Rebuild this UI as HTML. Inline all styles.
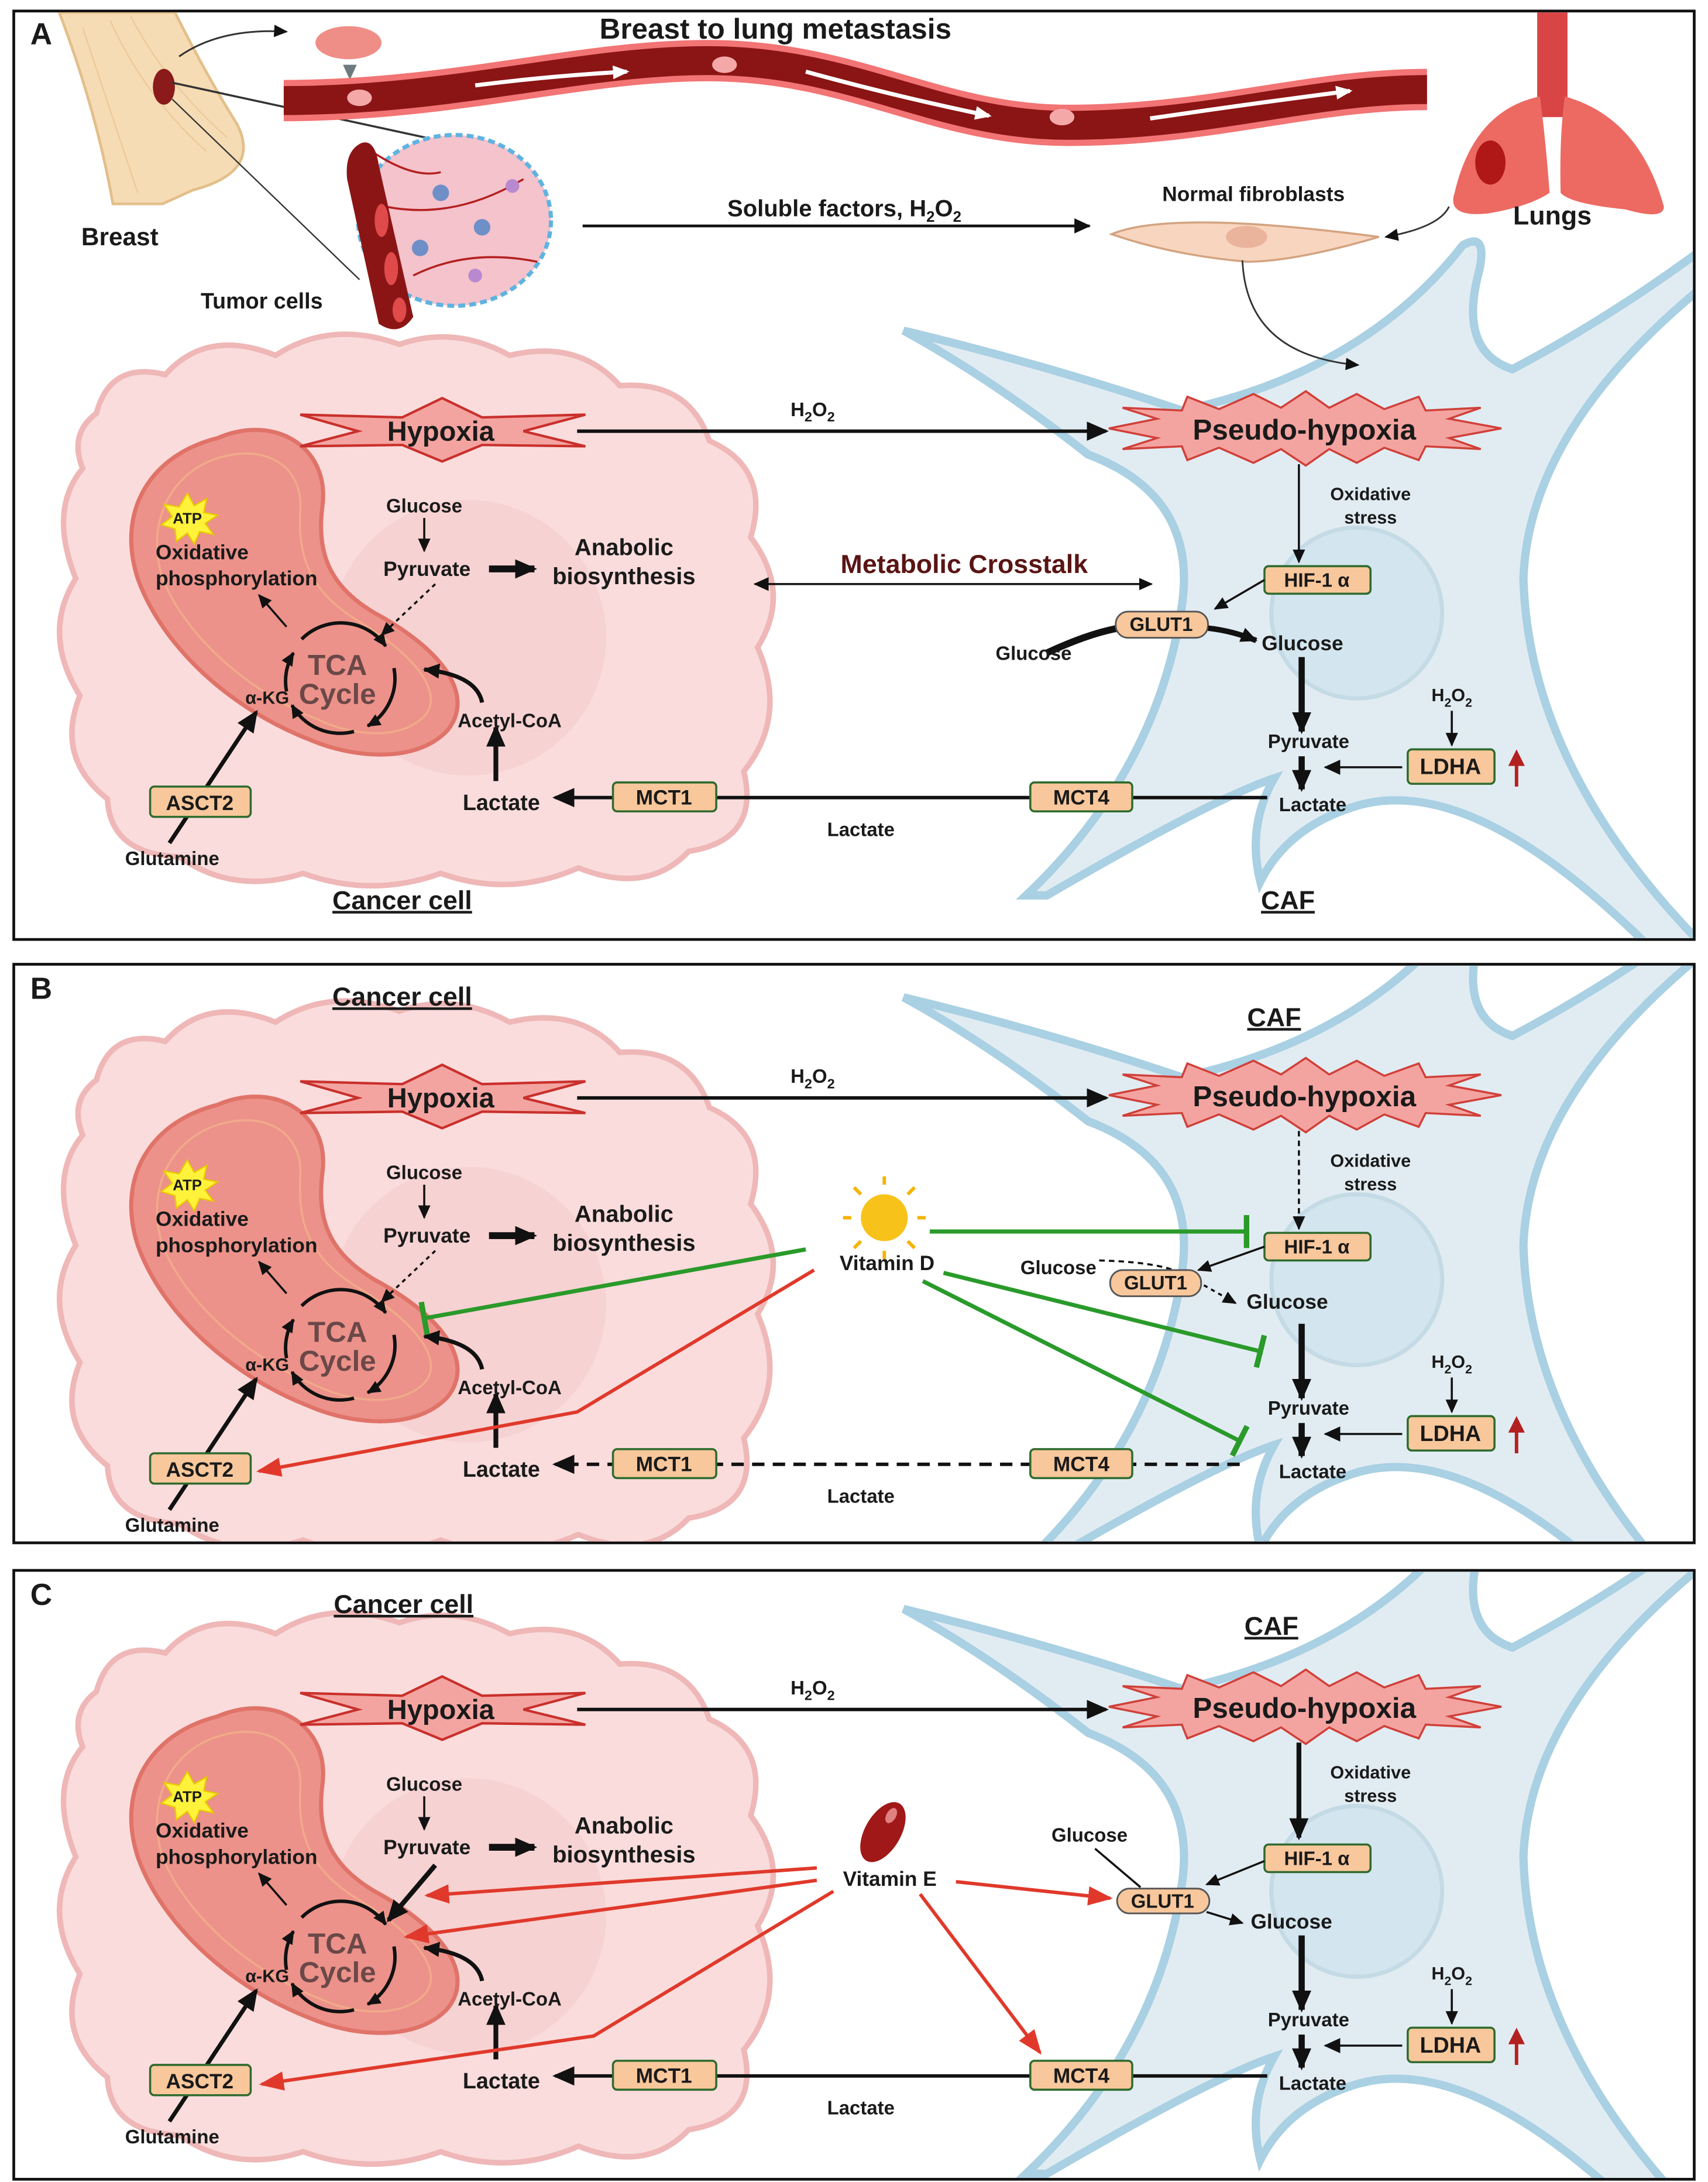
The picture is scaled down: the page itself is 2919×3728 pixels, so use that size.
<!DOCTYPE html>
<html><head><meta charset="utf-8"><style>
html,body{margin:0;padding:0;background:#fff}
svg{display:block}
text{font-family:"Liberation Sans",Arial,sans-serif;font-weight:bold;fill:#1a1a1a}
</style></head><body>
<svg width="2919" height="3728" viewBox="0 0 1240 1584" preserveAspectRatio="none" xmlns="http://www.w3.org/2000/svg">
<defs>
<marker id="ar" markerUnits="userSpaceOnUse" markerWidth="16" markerHeight="14" refX="14" refY="7" orient="auto"><path d="M0,0 L16,7 L0,14 Z" fill="#111"/></marker>
<marker id="arS" markerUnits="userSpaceOnUse" markerWidth="10" markerHeight="9" refX="9" refY="4.5" orient="auto"><path d="M0,0 L10,4.5 L0,9 Z" fill="#111"/></marker>
<marker id="arM" markerUnits="userSpaceOnUse" markerWidth="12" markerHeight="11" refX="11" refY="5.5" orient="auto"><path d="M0,0 L12,5.5 L0,11 Z" fill="#111"/></marker>
<marker id="arR" markerUnits="userSpaceOnUse" markerWidth="18" markerHeight="14" refX="16" refY="7" orient="auto"><path d="M0,0 L18,7 L0,14 Z" fill="#e0392b"/></marker>
<marker id="arW" markerUnits="userSpaceOnUse" markerWidth="12" markerHeight="10" refX="10" refY="5" orient="auto"><path d="M0,0 L12,5 L0,10 Z" fill="#fff"/></marker>
<marker id="tG" markerUnits="userSpaceOnUse" markerWidth="4" markerHeight="24" refX="2" refY="12" orient="auto"><rect x="0" y="0" width="4" height="24" fill="#2a9a2a"/></marker>
<clipPath id="cA"><rect x="11" y="9" width="1218" height="672"/></clipPath>
<clipPath id="cB"><rect x="11" y="701" width="1218" height="418"/></clipPath>
<clipPath id="cC"><rect x="11" y="1141" width="1218" height="440"/></clipPath>
<g id="cells">
<path d="M70,300 Q80,262 120,272 Q150,238 200,258 Q240,232 290,250 Q330,236 370,258 Q420,246 450,280 Q500,276 515,320 Q560,340 545,390 Q575,430 550,470 Q572,520 540,560 Q552,610 500,618 Q470,650 420,630 Q370,652 320,634 Q270,652 220,634 Q170,650 130,622 Q80,620 78,580 Q40,550 58,505 Q30,460 55,420 Q35,370 60,340 Q50,315 70,300 Z" fill="#fadcdc" stroke="#efb7b7" stroke-width="4"/>
<circle cx="340" cy="463" r="100" fill="#f4caca" opacity="0.55"/>
<path d="M656,240 Q760,265 858,298 Q990,270 1062,178 Q1080,168 1074,196 Q1058,255 1098,268 Q1170,230 1240,178 L1240,205 Q1110,310 1106,420 Q1110,560 1240,690 L1200,690 Q1070,560 985,585 Q935,600 915,640 Q905,600 925,565 Q880,580 760,650 L745,650 Q840,560 858,440 Q870,360 790,330 Q720,275 656,240 Z" fill="#e1ecf2" stroke="#a9d0e3" stroke-width="6"/>
<ellipse cx="985" cy="445" rx="62" ry="62" fill="#d3e5ee" stroke="#c4dae5" stroke-width="3"/>
<path d="M158,318 C200,300 240,325 234,368 C230,400 238,425 272,445 C322,472 345,505 325,530 C302,555 255,550 225,537 C168,515 118,470 100,420 C84,370 110,330 158,318 Z" fill="#ec928a" stroke="#e07369" stroke-width="3"/>
<path d="M160,332 C195,322 220,340 218,370 C216,405 225,430 262,452 C305,478 322,505 308,520 C290,538 255,534 230,522 C180,502 135,462 118,420 C105,378 125,342 160,332 Z" fill="none" stroke="#f2b08a" stroke-width="1.5" opacity="0.8"/>
<polygon points="218,301 292,303 321,289 350,303 425,301 380,313 425,324 350,323 321,335 292,323 218,324 260,313" fill="#f4a4a0" stroke="#c9302c" stroke-width="1.8"/>
<polygon points="805,311 840,304 815,296 858,298 862,288 885,297 910,286 930,296 948,284 965,296 985,286 1005,297 1030,288 1035,298 1075,296 1052,304 1090,311 1052,318 1075,326 1035,324 1030,334 1005,325 985,336 965,326 948,338 930,326 910,336 885,325 862,334 858,324 815,326 840,318" fill="#f4a4a0" stroke="#d0403a" stroke-width="1.5"/>
<polygon points="136,358 141,367 150,362 148,372 158,374 149,380 155,388 145,386 141,395 136,387 128,393 127,384 117,381 125,375 119,366 130,368" fill="#fff23a" stroke="#e8c800"/>
<line x1="419" y1="313" x2="803" y2="313" stroke="#111" stroke-width="2.5" marker-end="url(#ar)"/>
<line x1="308" y1="376" x2="308" y2="400" stroke="#111" stroke-width="1.5" marker-end="url(#arS)"/>
<line x1="355" y1="413" x2="388" y2="413" stroke="#111" stroke-width="5" marker-end="url(#ar)"/>
<line x1="208" y1="455" x2="188" y2="432" stroke="#111" stroke-width="1.5" marker-end="url(#arS)"/>
<g fill="none" stroke="#111" stroke-width="2.5">
<path d="M219,464 A40,40 0 0 1 280,469" marker-end="url(#arS)"/>
<path d="M286,485 A40,40 0 0 1 267,527" marker-end="url(#arS)"/>
<path d="M257,531 A40,40 0 0 1 212,512" marker-end="url(#arS)"/>
<path d="M208,502 A40,40 0 0 1 213,474" marker-end="url(#arS)"/>
<path d="M350,510 Q346,490 308,486" stroke-width="3" marker-end="url(#arM)"/>
</g>
<line x1="360" y1="567" x2="360" y2="528" stroke="#111" stroke-width="3.5" marker-end="url(#ar)"/>
<line x1="123" y1="612" x2="186" y2="517" stroke="#111" stroke-width="3" marker-end="url(#ar)"/>
<line x1="945" y1="477" x2="945" y2="531" stroke="#111" stroke-width="4.5" marker-end="url(#ar)"/>
<line x1="945" y1="549" x2="945" y2="573" stroke="#111" stroke-width="4.5" marker-end="url(#ar)"/>
<line x1="1018" y1="557" x2="962" y2="557" stroke="#111" stroke-width="1.5" marker-end="url(#arM)"/>
<line x1="1054" y1="516" x2="1054" y2="541" stroke="#111" stroke-width="1.5" marker-end="url(#arS)"/>
<line x1="1101" y1="571" x2="1101" y2="552" stroke="#b32020" stroke-width="2.5"/>
<path d="M1095,556 L1101,544 L1107,556 Z" fill="#b32020"/>
<rect x="109" y="571" width="73" height="22" rx="3" fill="#f8c79b" stroke="#2e6b2e" stroke-width="1.5"/>
<rect x="918" y="411" width="77" height="20" rx="3" fill="#f8c79b" stroke="#2e6b2e" stroke-width="1.5"/>
<rect x="1022" y="544" width="63" height="25" rx="3" fill="#f8c79b" stroke="#2e6b2e" stroke-width="1.5"/>
</g>
</defs>

<rect x="10" y="8" width="1220" height="674" fill="#fff" stroke="#111" stroke-width="2"/>
<rect x="10" y="700" width="1220" height="420" fill="#fff" stroke="#111" stroke-width="2"/>
<rect x="10" y="1140" width="1220" height="442" fill="#fff" stroke="#111" stroke-width="2"/>

<g clip-path="url(#cA)"><use href="#cells"/></g>
<g clip-path="url(#cB)"><use href="#cells" transform="translate(0,484)"/></g>
<g clip-path="url(#cC)"><use href="#cells" transform="translate(0,928)"/></g>

<!-- ===== Panel A top illustration ===== -->
<g clip-path="url(#cA)">
<path d="M43,9 L127,9 Q150,55 172,90 Q190,125 140,138 L118,148 L82,148 Q70,80 43,9 Z" fill="#f6dcb5" stroke="#e3bf8a" stroke-width="2"/>
<path d="M60,20 Q80,80 100,140 M80,15 Q105,70 150,110 M95,12 Q120,60 165,100" stroke="#ecca98" fill="none"/>
<ellipse cx="119" cy="63" rx="8" ry="13" fill="#8b1a1a"/>
<line x1="125" y1="60" x2="328" y2="104" stroke="#333" stroke-width="1.5"/>
<line x1="125" y1="72" x2="261" y2="203" stroke="#333" stroke-width="1"/>
<path d="M130,41 Q160,20 208,23" fill="none" stroke="#333" stroke-width="1.3" marker-end="url(#arS)"/>
<ellipse cx="253" cy="31" rx="24" ry="12" fill="#ec7a72" opacity="0.85"/>
<path d="M249,47 L259,47 L254,58 Z" fill="#6e7b7e"/>
<path d="M206,73 C330,73 420,44 514,44 C620,44 680,91 775,91 C880,91 950,65 1036,65" fill="none" stroke="#f27474" stroke-width="30"/>
<path d="M206,73 C330,73 420,44 514,44 C620,44 680,91 775,91 C880,91 950,65 1036,65" fill="none" stroke="#8b1414" stroke-width="21"/>
<g stroke="#fff" stroke-width="3" fill="none">
<path d="M345,62 Q400,55 455,52" marker-end="url(#arW)"/>
<path d="M585,52 Q650,70 718,84" marker-end="url(#arW)"/>
<path d="M835,86 Q910,75 980,66" marker-end="url(#arW)"/>
</g>
<ellipse cx="261" cy="71" rx="9" ry="6" fill="#f4a8a8"/>
<ellipse cx="526" cy="47" rx="9" ry="6" fill="#f4a8a8"/>
<ellipse cx="771" cy="85" rx="9" ry="6" fill="#f4a8a8"/>
<text x="563" y="28" font-size="21" text-anchor="middle">Breast to lung metastasis</text>
<ellipse cx="330" cy="160" rx="70" ry="62" fill="#f4c3cc" stroke="#5fb3e0" stroke-width="3" stroke-dasharray="5 3"/>
<path d="M270,110 Q300,130 320,125 M300,200 Q340,180 390,190 M280,150 Q330,160 380,130" stroke="#b52020" stroke-width="1.5" fill="none"/>
<circle cx="320" cy="140" r="6" fill="#6f8fc8"/><circle cx="350" cy="165" r="6" fill="#6f8fc8"/><circle cx="372" cy="135" r="5" fill="#b989d0"/><circle cx="305" cy="180" r="6" fill="#6f8fc8"/><circle cx="345" cy="200" r="5" fill="#b989d0"/>
<path d="M262,104 Q272,100 275,120 L300,230 Q290,245 275,235 L252,130 Q250,110 262,104 Z" fill="#8b1515"/>
<ellipse cx="277" cy="160" rx="5" ry="12" fill="#e04a4a"/><ellipse cx="284" cy="195" rx="5" ry="12" fill="#e04a4a"/><ellipse cx="290" cy="225" rx="5" ry="9" fill="#e04a4a"/>
<rect x="1116" y="9" width="22" height="76" fill="#d94444"/>
<path d="M1118,70 Q1070,80 1056,140 Q1050,158 1080,155 Q1110,150 1125,140 Q1122,100 1118,70 Z" fill="#ec6a62"/>
<path d="M1136,70 Q1190,85 1208,150 Q1208,160 1180,152 Q1140,148 1133,140 Q1132,100 1136,70 Z" fill="#ec6a62"/>
<ellipse cx="1082" cy="118" rx="11" ry="16" fill="#b01818"/>
<path d="M1052,150 Q1045,165 1006,172" fill="none" stroke="#333" stroke-width="1.2" marker-end="url(#arS)"/>
<text x="87" y="178" font-size="18" text-anchor="middle">Breast</text>
<text x="190" y="224" font-size="16" text-anchor="middle">Tumor cells</text>
<text x="1127" y="163" font-size="19" text-anchor="middle">Lungs</text>
<line x1="423" y1="164" x2="791" y2="164" stroke="#111" stroke-width="2" marker-end="url(#arM)"/>
<text x="613" y="157" font-size="17" text-anchor="middle">Soluble factors, H<tspan font-size="11" dy="4">2</tspan><tspan dy="-4">O</tspan><tspan font-size="11" dy="4">2</tspan></text>
<text x="910" y="146" font-size="15" text-anchor="middle">Normal fibroblasts</text>
<path d="M807,170 Q850,152 1001,172 Q940,190 905,190 Q850,185 807,170 Z" fill="#f8d5be" stroke="#d3a380" stroke-width="1.5"/>
<ellipse cx="905" cy="172" rx="15" ry="8" fill="#eab39b"/>
<path d="M902,189 Q905,258 986,265" fill="none" stroke="#333" stroke-width="1.2" marker-end="url(#arS)"/>
</g>

<text x="22" y="32" font-size="22">A</text>
<text x="22" y="725" font-size="22">B</text>
<text x="22" y="1165" font-size="22">C</text>

<!-- ===== Panel A ===== -->
<g font-size="14">
<text x="320" y="320" font-size="20" text-anchor="middle">Hypoxia</text>
<text x="947" y="319" font-size="21" text-anchor="middle">Pseudo-hypoxia</text>
<text x="590" y="302" text-anchor="middle">H<tspan font-size="10" dy="4">2</tspan><tspan dy="-4">O</tspan><tspan font-size="10" dy="4">2</tspan></text>
<text x="136" y="380" font-size="11" text-anchor="middle">ATP</text>
<text x="113" y="406" font-size="15">Oxidative</text>
<text x="113" y="425" font-size="15">phosphorylation</text>
<text x="308" y="372" text-anchor="middle">Glucose</text>
<text x="310" y="418" font-size="15" text-anchor="middle">Pyruvate</text>
<text x="453" y="403" font-size="17" text-anchor="middle">Anabolic</text>
<text x="453" y="424" font-size="17" text-anchor="middle">biosynthesis</text>
<text x="245" y="490" font-size="21" text-anchor="middle" style="fill:#6b4848">TCA</text>
<text x="245" y="511" font-size="21" text-anchor="middle" style="fill:#6b4848">Cycle</text>
<text x="194" y="511" font-size="13" text-anchor="middle">α-KG</text>
<text x="370" y="528" text-anchor="middle">Acetyl-CoA</text>
<text x="364" y="588" font-size="16" text-anchor="middle">Lactate</text>
<text x="145" y="588" font-size="15" text-anchor="middle">ASCT2</text>
<text x="125" y="628" font-size="14" text-anchor="middle">Glutamine</text>
<text x="995" y="363" font-size="13" text-anchor="middle">Oxidative</text>
<text x="995" y="380" font-size="13" text-anchor="middle">stress</text>
<text x="956" y="426" text-anchor="middle">HIF-1 α</text>
<text x="1053" y="562" font-size="16" text-anchor="middle">LDHA</text>
<text x="1054" y="509" font-size="13" text-anchor="middle">H<tspan font-size="9" dy="4">2</tspan><tspan dy="-4">O</tspan><tspan font-size="9" dy="4">2</tspan></text>
<text x="950" y="543" text-anchor="middle">Pyruvate</text>
<text x="953" y="589" text-anchor="middle">Lactate</text>
<text x="625" y="607" text-anchor="middle">Lactate</text>
<text x="292" y="660" font-size="19" text-anchor="middle" text-decoration="underline">Cancer cell</text>
<text x="935" y="660" font-size="19" text-anchor="middle" text-decoration="underline">CAF</text>
<line x1="943" y1="337" x2="943" y2="408" stroke="#111" stroke-width="1.5" marker-end="url(#arS)"/>
<line x1="316" y1="424" x2="277" y2="461" stroke="#111" stroke-width="1.5" stroke-dasharray="3 3" marker-end="url(#arS)"/>
<line x1="548" y1="424" x2="836" y2="424" stroke="#111" stroke-width="1.5" marker-end="url(#arS)"/>
<path d="M558,419 L547,424 L558,429 Z" fill="#111"/>
<text x="700" y="416" font-size="19" text-anchor="middle" style="fill:#5a1414">Metabolic Crosstalk</text>
<line x1="918" y1="421" x2="882" y2="442" stroke="#111" stroke-width="1.5" marker-end="url(#arS)"/>
<path d="M760,474 Q790,460 812,456" fill="none" stroke="#111" stroke-width="5"/>
<text x="778" y="479" text-anchor="end">Glucose</text>
<rect x="810" y="444" width="67" height="19" rx="9" fill="#f8c79b" stroke="#555" stroke-width="1.2"/>
<text x="843" y="458" font-size="14" text-anchor="middle">GLUT1</text>
<path d="M877,456 Q895,458 912,465" fill="none" stroke="#111" stroke-width="4" marker-end="url(#arM)"/>
<text x="916" y="472" font-size="15">Glucose</text>
<line x1="920" y1="579" x2="403" y2="579" stroke="#111" stroke-width="2.5" marker-end="url(#ar)"/>
<rect x="445" y="568" width="75" height="21" rx="3" fill="#f8c79b" stroke="#2e6b2e" stroke-width="1.5"/>
<text x="482" y="584" font-size="15" text-anchor="middle">MCT1</text>
<rect x="748" y="568" width="74" height="21" rx="3" fill="#f8c79b" stroke="#2e6b2e" stroke-width="1.5"/>
<text x="785" y="584" font-size="15" text-anchor="middle">MCT4</text>
</g>

<!-- ===== Panel B ===== -->
<g transform="translate(0,484)" font-size="14">
<text x="320" y="320" font-size="20" text-anchor="middle">Hypoxia</text>
<text x="947" y="319" font-size="21" text-anchor="middle">Pseudo-hypoxia</text>
<text x="590" y="302" text-anchor="middle">H<tspan font-size="10" dy="4">2</tspan><tspan dy="-4">O</tspan><tspan font-size="10" dy="4">2</tspan></text>
<text x="136" y="380" font-size="11" text-anchor="middle">ATP</text>
<text x="113" y="406" font-size="15">Oxidative</text>
<text x="113" y="425" font-size="15">phosphorylation</text>
<text x="308" y="372" text-anchor="middle">Glucose</text>
<text x="310" y="418" font-size="15" text-anchor="middle">Pyruvate</text>
<text x="453" y="403" font-size="17" text-anchor="middle">Anabolic</text>
<text x="453" y="424" font-size="17" text-anchor="middle">biosynthesis</text>
<text x="245" y="490" font-size="21" text-anchor="middle" style="fill:#6b4848">TCA</text>
<text x="245" y="511" font-size="21" text-anchor="middle" style="fill:#6b4848">Cycle</text>
<text x="194" y="511" font-size="13" text-anchor="middle">α-KG</text>
<text x="370" y="528" text-anchor="middle">Acetyl-CoA</text>
<text x="364" y="588" font-size="16" text-anchor="middle">Lactate</text>
<text x="145" y="588" font-size="15" text-anchor="middle">ASCT2</text>
<text x="125" y="628" font-size="14" text-anchor="middle">Glutamine</text>
<text x="995" y="363" font-size="13" text-anchor="middle">Oxidative</text>
<text x="995" y="380" font-size="13" text-anchor="middle">stress</text>
<text x="956" y="426" text-anchor="middle">HIF-1 α</text>
<text x="1053" y="562" font-size="16" text-anchor="middle">LDHA</text>
<text x="1054" y="509" font-size="13" text-anchor="middle">H<tspan font-size="9" dy="4">2</tspan><tspan dy="-4">O</tspan><tspan font-size="9" dy="4">2</tspan></text>
<text x="950" y="543" text-anchor="middle">Pyruvate</text>
<text x="953" y="589" text-anchor="middle">Lactate</text>
<text x="625" y="607" text-anchor="middle">Lactate</text>
<text x="292" y="246" font-size="19" text-anchor="middle" text-decoration="underline">Cancer cell</text>
<text x="925" y="261" font-size="19" text-anchor="middle" text-decoration="underline">CAF</text>
<line x1="316" y1="424" x2="277" y2="461" stroke="#111" stroke-width="1.5" stroke-dasharray="3 3" marker-end="url(#arS)"/>
<line x1="943" y1="337" x2="943" y2="408" stroke="#111" stroke-width="1.5" stroke-dasharray="4 3" marker-end="url(#arS)"/>
<text x="796" y="441" text-anchor="end">Glucose</text>
<path d="M798,431 Q835,432 852,438" fill="none" stroke="#111" stroke-width="1.5" stroke-dasharray="4 3"/>
<line x1="918" y1="421" x2="870" y2="438" stroke="#111" stroke-width="1.5" marker-end="url(#arS)"/>
<rect x="806" y="438" width="66" height="19" rx="9" fill="#f8c79b" stroke="#555" stroke-width="1.2"/>
<text x="839" y="452" font-size="14" text-anchor="middle">GLUT1</text>
<line x1="874" y1="449" x2="897" y2="462" stroke="#111" stroke-width="1.5" stroke-dasharray="3 3" marker-end="url(#arS)"/>
<text x="905" y="466" font-size="15">Glucose</text>
<line x1="900" y1="579" x2="403" y2="579" stroke="#111" stroke-width="2.5" stroke-dasharray="9 6" marker-end="url(#ar)"/>
<rect x="445" y="568" width="75" height="21" rx="3" fill="#f8c79b" stroke="#2e6b2e" stroke-width="1.5"/>
<text x="482" y="584" font-size="15" text-anchor="middle">MCT1</text>
<rect x="748" y="568" width="74" height="21" rx="3" fill="#f8c79b" stroke="#2e6b2e" stroke-width="1.5"/>
<text x="785" y="584" font-size="15" text-anchor="middle">MCT4</text>
<g stroke="#f5b400" stroke-width="2.5">
<line x1="642" y1="376" x2="642" y2="370"/><line x1="642" y1="424" x2="642" y2="430"/><line x1="618" y1="400" x2="612" y2="400"/><line x1="666" y1="400" x2="672" y2="400"/>
<line x1="625" y1="383" x2="620" y2="378"/><line x1="659" y1="383" x2="664" y2="378"/><line x1="625" y1="417" x2="620" y2="422"/><line x1="659" y1="417" x2="664" y2="422"/>
</g>
<circle cx="642" cy="400" r="17" fill="#f7c21a"/>
<text x="644" y="438" font-size="15" text-anchor="middle">Vitamin D</text>
<g stroke="#2a9a2a" stroke-width="3" fill="none">
<line x1="675" y1="410" x2="905" y2="410" marker-end="url(#tG)"/>
<line x1="585" y1="423" x2="308" y2="473" marker-end="url(#tG)"/>
<line x1="685" y1="440" x2="915" y2="497" marker-end="url(#tG)"/>
<line x1="670" y1="446" x2="900" y2="562" marker-end="url(#tG)"/>
</g>
<path d="M591,438 L419,541 L188,584" fill="none" stroke="#e0392b" stroke-width="2.5" marker-end="url(#arR)"/>
</g>

<!-- ===== Panel C ===== -->
<g transform="translate(0,928)" font-size="14">
<text x="320" y="320" font-size="20" text-anchor="middle">Hypoxia</text>
<text x="947" y="319" font-size="21" text-anchor="middle">Pseudo-hypoxia</text>
<text x="590" y="302" text-anchor="middle">H<tspan font-size="10" dy="4">2</tspan><tspan dy="-4">O</tspan><tspan font-size="10" dy="4">2</tspan></text>
<text x="136" y="380" font-size="11" text-anchor="middle">ATP</text>
<text x="113" y="406" font-size="15">Oxidative</text>
<text x="113" y="425" font-size="15">phosphorylation</text>
<text x="308" y="372" text-anchor="middle">Glucose</text>
<text x="310" y="418" font-size="15" text-anchor="middle">Pyruvate</text>
<text x="453" y="403" font-size="17" text-anchor="middle">Anabolic</text>
<text x="453" y="424" font-size="17" text-anchor="middle">biosynthesis</text>
<text x="245" y="490" font-size="21" text-anchor="middle" style="fill:#6b4848">TCA</text>
<text x="245" y="511" font-size="21" text-anchor="middle" style="fill:#6b4848">Cycle</text>
<text x="194" y="511" font-size="13" text-anchor="middle">α-KG</text>
<text x="370" y="528" text-anchor="middle">Acetyl-CoA</text>
<text x="364" y="588" font-size="16" text-anchor="middle">Lactate</text>
<text x="145" y="588" font-size="15" text-anchor="middle">ASCT2</text>
<text x="125" y="628" font-size="14" text-anchor="middle">Glutamine</text>
<text x="995" y="363" font-size="13" text-anchor="middle">Oxidative</text>
<text x="995" y="380" font-size="13" text-anchor="middle">stress</text>
<text x="956" y="426" text-anchor="middle">HIF-1 α</text>
<text x="1053" y="562" font-size="16" text-anchor="middle">LDHA</text>
<text x="1054" y="509" font-size="13" text-anchor="middle">H<tspan font-size="9" dy="4">2</tspan><tspan dy="-4">O</tspan><tspan font-size="9" dy="4">2</tspan></text>
<text x="950" y="543" text-anchor="middle">Pyruvate</text>
<text x="953" y="589" text-anchor="middle">Lactate</text>
<text x="625" y="607" text-anchor="middle">Lactate</text>
<text x="293" y="243" font-size="19" text-anchor="middle" text-decoration="underline">Cancer cell</text>
<text x="923" y="259" font-size="19" text-anchor="middle" text-decoration="underline">CAF</text>
<line x1="943" y1="337" x2="943" y2="406" stroke="#111" stroke-width="3.5" marker-end="url(#ar)"/>
<line x1="316" y1="426" x2="282" y2="466" stroke="#111" stroke-width="3.5" marker-end="url(#ar)"/>
<text x="791" y="409" text-anchor="middle">Glucose</text>
<line x1="795" y1="414" x2="828" y2="442" stroke="#111" stroke-width="1.5"/>
<line x1="918" y1="423" x2="876" y2="440" stroke="#111" stroke-width="1.5" marker-end="url(#arS)"/>
<rect x="811" y="443" width="67" height="18" rx="9" fill="#f8c79b" stroke="#555" stroke-width="1.2"/>
<text x="844" y="457" font-size="14" text-anchor="middle">GLUT1</text>
<line x1="876" y1="460" x2="902" y2="468" stroke="#111" stroke-width="1.5" marker-end="url(#arS)"/>
<text x="908" y="472" font-size="15">Glucose</text>
<line x1="920" y1="579" x2="403" y2="579" stroke="#111" stroke-width="2.5" marker-end="url(#ar)"/>
<rect x="445" y="568" width="75" height="21" rx="3" fill="#f8c79b" stroke="#2e6b2e" stroke-width="1.5"/>
<text x="482" y="584" font-size="15" text-anchor="middle">MCT1</text>
<rect x="748" y="568" width="74" height="21" rx="3" fill="#f8c79b" stroke="#2e6b2e" stroke-width="1.5"/>
<text x="785" y="584" font-size="15" text-anchor="middle">MCT4</text>
<ellipse cx="641" cy="402" rx="13" ry="24" transform="rotate(30 641 402)" fill="#a01818"/>
<ellipse cx="647" cy="390" rx="3.5" ry="6" transform="rotate(30 647 390)" fill="#e08080"/>
<text x="646" y="441" font-size="15" text-anchor="middle">Vitamin E</text>
<g stroke="#e0392b" stroke-width="2.5" fill="none">
<line x1="593" y1="428" x2="310" y2="448" marker-end="url(#arR)"/>
<line x1="593" y1="437" x2="295" y2="478" marker-end="url(#arR)"/>
<path d="M605,445 L431,550 L190,585" marker-end="url(#arR)"/>
<line x1="694" y1="438" x2="806" y2="450" marker-end="url(#arR)"/>
<line x1="668" y1="447" x2="755" y2="562" marker-end="url(#arR)"/>
</g>
</g>
</svg>
</body></html>
